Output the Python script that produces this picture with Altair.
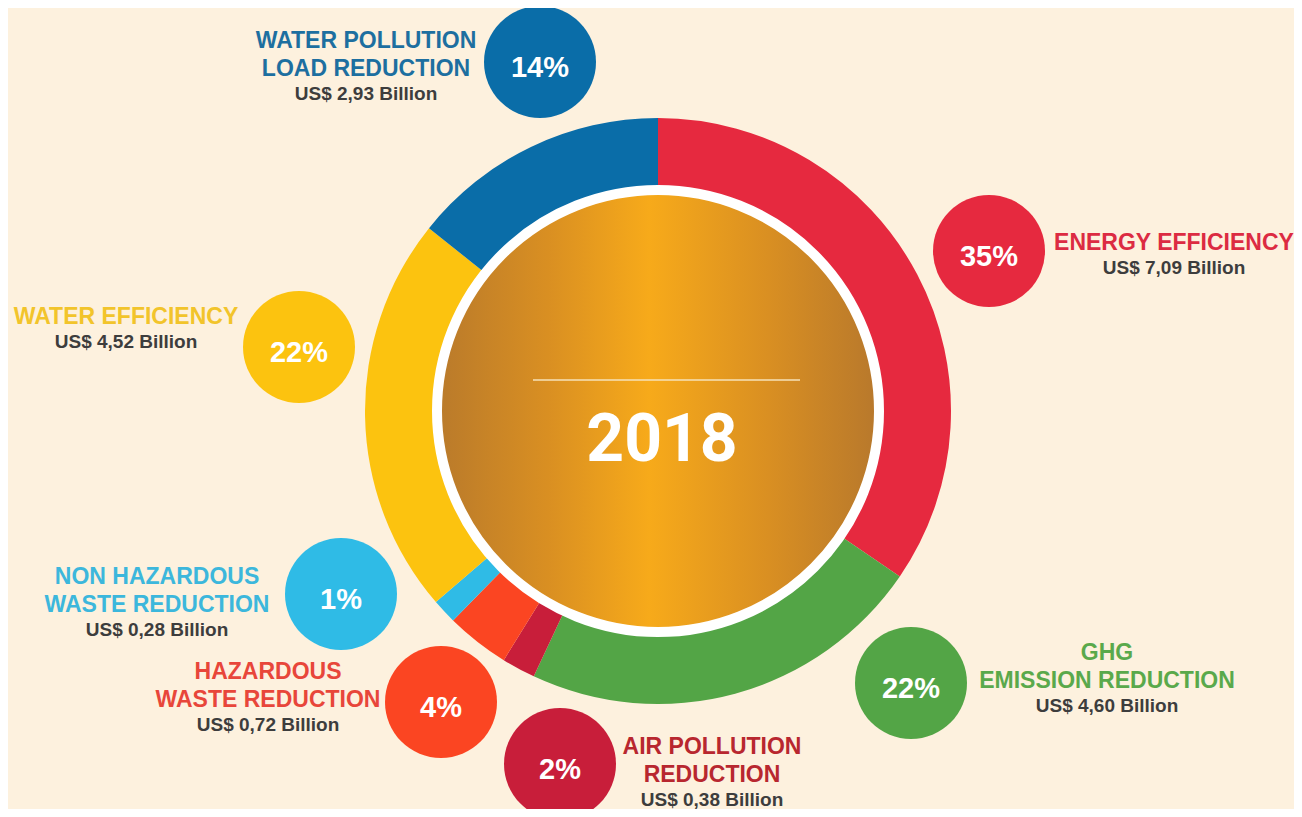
import altair as alt
import pandas as pd

# ---------------- data ----------------
categories = [
    "ENERGY EFFICIENCY",
    "GHG EMISSION REDUCTION",
    "AIR POLLUTION REDUCTION",
    "HAZARDOUS WASTE REDUCTION",
    "NON HAZARDOUS WASTE REDUCTION",
    "WATER EFFICIENCY",
    "WATER POLLUTION LOAD REDUCTION",
]
values = [7.09, 4.60, 0.38, 0.72, 0.28, 4.52, 2.93]          # US$ billion
pct_labels = ["35%", "22%", "2%", "4%", "1%", "22%", "14%"]
title_lines = [
    ["ENERGY EFFICIENCY"],
    ["GHG", "EMISSION REDUCTION"],
    ["AIR POLLUTION", "REDUCTION"],
    ["HAZARDOUS", "WASTE REDUCTION"],
    ["NON HAZARDOUS", "WASTE REDUCTION"],
    ["WATER EFFICIENCY"],
    ["WATER POLLUTION", "LOAD REDUCTION"],
]
year_label = "2018"

# ---------------- style ----------------
seg_colors = ["#e6293f", "#53a546", "#c81e3a", "#fb4522", "#2fbbe6", "#fcc30f", "#0a6da8"]
title_colors = ["#dc2b42", "#5aa94b", "#b8272f", "#e8463a", "#3cb7dc", "#f2c42b", "#1d6fa0"]
value_color = "#3d3d3d"
bg = "#fdf1de"
FONT = "Liberation Sans"

# ---------------- layout (page pixel coordinates) ----------------
W, H = 1286, 801
center_x, center_y = 658, 411
bubble_x = [989, 911, 560, 441, 341, 299, 540]
bubble_y = [251, 683, 764, 702, 594, 347, 62]
bubble_diam = 112
label_x = [1174, 1107, 712, 268, 157, 126, 366]
label_y = [243, 653, 747, 672, 577, 317, 41]
line_gap, value_gap = 27.5, 25
rule_x1, rule_x2, rule_y = 533, 800, 380
year_x, year_y = 662, 441

xs = alt.Scale(domain=[8, 8 + W], range=[0, W], nice=False, zero=False)
ys = alt.Scale(domain=[8, 8 + H], range=[0, H], nice=False, zero=False)


def X(f):
    return alt.X(f, type="quantitative", scale=xs, axis=None)


def Y(f):
    return alt.Y(f, type="quantitative", scale=ys, axis=None)


cat_scale = alt.Scale(domain=categories, range=seg_colors)

# ---------------- tables ----------------
donut_df = pd.DataFrame({
    "category": categories,
    "value": values,
    "idx": list(range(len(categories))),
    "cx": center_x,
    "cy": center_y,
})

center_df = pd.DataFrame({"cx": [center_x], "cy": [center_y], "one": [1]})
rule_df = pd.DataFrame({"x1": [rule_x1], "x2": [rule_x2], "y": [rule_y]})
year_df = pd.DataFrame({"x": [year_x], "y": [year_y], "t": [year_label]})

bubble_df = pd.DataFrame({
    "category": categories,
    "pct": pct_labels,
    "bx": bubble_x,
    "by": bubble_y,
})

title_rows, value_rows = [], []
for i, cat in enumerate(categories):
    lines = title_lines[i]
    for j, ln in enumerate(lines):
        title_rows.append({"t": ln, "lx": label_x[i], "ly": label_y[i] + line_gap * j,
                           "col": title_colors[i]})
    vtxt = "US$ " + f"{values[i]:.2f}".replace(".", ",") + " Billion"
    value_rows.append({"t": vtxt, "lx": label_x[i],
                       "ly": label_y[i] + line_gap * (len(lines) - 1) + value_gap})
title_df = pd.DataFrame(title_rows)
value_df = pd.DataFrame(value_rows)

# ---------------- layers ----------------
donut = alt.Chart(donut_df).mark_arc(innerRadius=222, outerRadius=293).encode(
    x=X("cx"), y=Y("cy"),
    theta=alt.Theta("value:Q", stack=True),
    order=alt.Order("idx:Q"),
    color=alt.Color("category:N", scale=cat_scale, legend=None),
)

gold_fill = {
    "gradient": "linear", "x1": 0, "y1": 0, "x2": 1, "y2": 0,
    "stops": [
        {"offset": 0.0, "color": "#b97a2b"},
        {"offset": 0.25, "color": "#d98f22"},
        {"offset": 0.48, "color": "#f7aa1a"},
        {"offset": 0.75, "color": "#d98f22"},
        {"offset": 1.0, "color": "#b7782c"},
    ],
}
gold = alt.Chart(center_df).mark_arc(
    outerRadius=221, innerRadius=0, theta=0, theta2=6.2832,
    fill=gold_fill, stroke="white", strokeWidth=10
).encode(x=X("cx"), y=Y("cy"))

rule = alt.Chart(rule_df).mark_rule(color="#f6e2b8", strokeWidth=1.5).encode(
    x=X("x1"), x2="x2:Q", y=Y("y")
)

year = alt.Chart(year_df).mark_text(
    font="Roboto", fontWeight="bold", fontSize=66, color="white",
    align="center", baseline="middle",
).encode(x=X("x"), y=Y("y"), text="t:N")

bubbles = alt.Chart(bubble_df).mark_circle(size=bubble_diam ** 2, opacity=1).encode(
    x=X("bx"), y=Y("by"),
    color=alt.Color("category:N", scale=cat_scale, legend=None),
)

pct_text = alt.Chart(bubble_df).mark_text(
    font=FONT, fontWeight="bold", fontSize=29, color="white",
    align="center", baseline="middle", dy=6,
).encode(x=X("bx"), y=Y("by"), text="pct:N")

titles = alt.Chart(title_df).mark_text(
    font=FONT, fontWeight="bold", fontSize=23, align="center", baseline="middle",
).encode(x=X("lx"), y=Y("ly"), text="t:N", color=alt.Color("col:N", scale=None))

vals = alt.Chart(value_df).mark_text(
    font=FONT, fontWeight="bold", fontSize=19, align="center", baseline="middle",
    color=value_color,
).encode(x=X("lx"), y=Y("ly"), text="t:N")

chart = alt.layer(donut, gold, rule, year, bubbles, pct_text, titles, vals).properties(
    width=W, height=H, background=bg, padding=0, autosize="none"
).configure_view(stroke=None)

chart.save("out.html", embed_options={"renderer": "svg", "actions": False})
